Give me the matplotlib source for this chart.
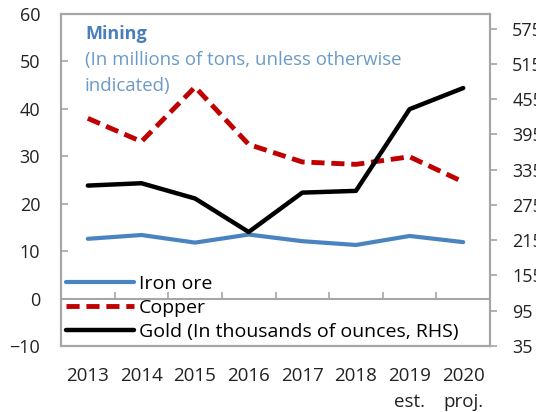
import numpy as np
import matplotlib
matplotlib.use("Agg")
import matplotlib.pyplot as plt

plt.rcParams['font.family'] = ['Open Sans', 'DejaVu Sans']

# Data
years = ["2013", "2014", "2015", "2016", "2017", "2018", "2019\nest.", "2020\nproj."]
iron_ore = [12.6, 13.4, 11.8, 13.5, 12.1, 11.3, 13.2, 11.9]
copper = [38.0, 33.1, 44.6, 32.5, 28.8, 28.3, 29.9, 24.6]
gold = [308, 312, 286, 229, 296, 299, 438, 474]   # thousands of ounces, RHS

left_ticks = [-10, 0, 10, 20, 30, 40, 50, 60]
right_ticks = [35, 95, 155, 215, 275, 335, 395, 455, 515, 575]

grey = "#a6a6a6"
blue = "#4a84c0"
red = "#c00000"
fs = 13

fig = plt.figure(figsize=(5.36, 4.12), dpi=100)
ax = fig.add_axes([61 / 536, 1 - 346 / 412, 429 / 536, 332 / 412])
ax2 = ax.twinx()

x = np.arange(len(years))
l1, = ax.plot(x, iron_ore, color=blue, lw=3.0, label="Iron ore", solid_capstyle="round")
l2, = ax.plot(x, copper, color=red, lw=3.5, dashes=(2.7, 1.4), label="Copper")
l3, = ax2.plot(x, gold, color="black", lw=3.2, label="Gold (In thousands of ounces, RHS)",
               solid_capstyle="round")

ax.set_xlim(-0.5, len(years) - 0.5)
ax.set_ylim(-10, 60)
ax2.set_ylim(35, 600)

ax.set_yticks(left_ticks)
ax2.set_yticks(right_ticks)
ax.set_xticks(x)
ax.set_xticklabels(years, fontsize=13.5, color="#222222", linespacing=1.6)

for a in (ax, ax2):
    for s in a.spines.values():
        s.set_color(grey)
        s.set_linewidth(1.5)

ax.tick_params(axis="x", length=0, pad=15)
ax.tick_params(axis="y", direction="in", length=5, width=1.2, color=grey,
               labelsize=fs, labelcolor="#222222", pad=15)
ax2.tick_params(axis="y", direction="out", length=5, width=1.2, color=grey,
                labelsize=fs, labelcolor="#222222", pad=11)

# horizontal axis line at zero with category-boundary ticks pointing up
zero = ax.secondary_xaxis(10 / 70)
zero.spines["bottom"].set_color(grey)
zero.spines["bottom"].set_linewidth(1.5)
zero.set_xticks(np.arange(len(years) + 1) - 0.5)
zero.tick_params(direction="in", length=5, width=1.2, color=grey, labelbottom=False)

ax.text(24 / 429, 1 - 20 / 332, "Mining", transform=ax.transAxes, fontsize=fs,
        fontweight="bold", color="#4a7ebb", va="center", ha="left")
ax.text(24 / 429, 1 - 59 / 332, "(In millions of tons, unless otherwise\nindicated)",
        transform=ax.transAxes, fontsize=13.4, color="#6a9bc8", va="center", ha="left",
        linespacing=1.55)

ax.legend(handles=[l1, l2, l3], loc="lower left", bbox_to_anchor=(5 / 429, 5 / 332),
          frameon=False, fontsize=14, handlelength=3.5, handletextpad=0.25,
          labelspacing=0.32, borderpad=0, borderaxespad=0)

fig.savefig("out.png", dpi=100)
